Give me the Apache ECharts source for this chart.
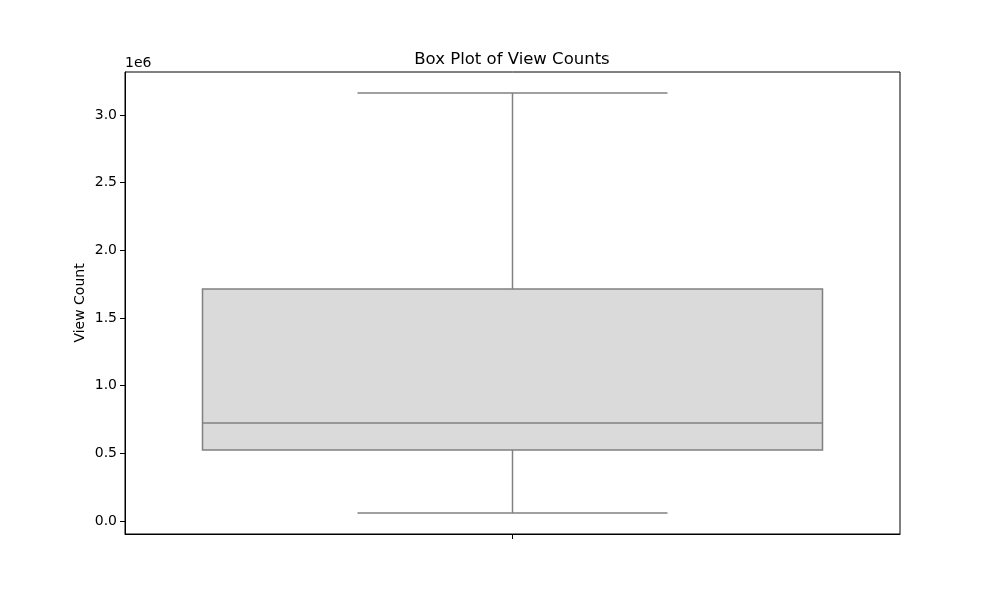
<!DOCTYPE html>
<html>
<head>
<meta charset="utf-8">
<title>Box Plot of View Counts</title>
<script src="https://cdn.jsdelivr.net/npm/echarts@6/dist/echarts.min.js"></script>
<style>
    html, body { margin: 0; padding: 0; background: #fff; }
    #chart { width: 1000px; height: 600px; }
</style>
</head>
<body>
<div id="chart"></div>
<script>
    // summary of the view counts
    const categories = ['']
    const whiskerLow = [59000]
    const quartile1 = [525000]
    const medians = [724000]
    const quartile3 = [1714000]
    const whiskerHigh = [3163000]
    const yTicks = [0, 500000, 1000000, 1500000, 2000000, 2500000, 3000000]
    const xTicks = categories.map((c, i) => i)

    const boxData = categories.map((c, i) => [i, whiskerLow[i], quartile1[i], medians[i], quartile3[i], whiskerHigh[i]])

    const lineColor = '#808080'
    const fillColor = '#dadada'
    const font = 'DejaVu Sans'

    function renderBox (params, api) {
        const idx = api.value(0)
        const band = api.size([1, 0])[0]
        const boxW = band * 0.8
        const capW = boxW / 2
        const pLow = api.coord([idx, api.value(1)])
        const pQ1 = api.coord([idx, api.value(2)])
        const pMed = api.coord([idx, api.value(3)])
        const pQ3 = api.coord([idx, api.value(4)])
        const pHigh = api.coord([idx, api.value(5)])
        const cx = pMed[0]
        const lineStyle = { stroke: lineColor, lineWidth: 1.5, fill: null }
        return {
            type: 'group',
            children: [
                { type: 'line', shape: { x1: cx, y1: pQ3[1], x2: cx, y2: pHigh[1] }, style: lineStyle },
                { type: 'line', shape: { x1: cx, y1: pQ1[1], x2: cx, y2: pLow[1] }, style: lineStyle },
                { type: 'line', shape: { x1: cx - capW / 2, y1: pHigh[1], x2: cx + capW / 2, y2: pHigh[1] }, style: lineStyle },
                { type: 'line', shape: { x1: cx - capW / 2, y1: pLow[1], x2: cx + capW / 2, y2: pLow[1] }, style: lineStyle },
                {
                    type: 'rect',
                    shape: { x: cx - boxW / 2, y: pQ3[1], width: boxW, height: pQ1[1] - pQ3[1] },
                    style: { fill: fillColor, stroke: lineColor, lineWidth: 1.5 }
                },
                { type: 'line', shape: { x1: cx - boxW / 2, y1: pMed[1], x2: cx + boxW / 2, y2: pMed[1] }, style: lineStyle }
            ]
        }
    }

    const chart = echarts.init(document.getElementById('chart'))
    chart.setOption({
        animation: false,
        graphic: [{
            type: 'text',
            x: 512,
            y: 60,
            style: {
                text: 'Box Plot of View Counts',
                font: '16.5px "DejaVu Sans"',
                fill: '#000',
                align: 'center',
                verticalAlign: 'middle'
            }
        }, {
            type: 'text',
            x: 125,
            y: 63,
            style: { text: '1e6', font: '14px "DejaVu Sans"', fill: '#000', verticalAlign: 'middle' }
        }],
        grid: {
            left: 125,
            right: 100,
            top: 72,
            bottom: 66,
            show: true,
            borderColor: '#000',
            borderWidth: 1
        },
        xAxis: {
            type: 'value',
            min: -0.5,
            max: 0.5,
            axisLine: { show: true, onZero: false, lineStyle: { color: '#000', width: 1 } },
            axisTick: { show: true, length: 5, customValues: xTicks, lineStyle: { color: '#000', width: 1 } },
            axisLabel: { show: false },
            splitLine: { show: false }
        },
        yAxis: {
            type: 'value',
            min: -96300,
            max: 3318000,
            name: 'View Count',
            nameLocation: 'middle',
            nameGap: 38,
            nameMoveOverlap: false,
            nameRotate: 90,
            nameTextStyle: { fontFamily: font, fontSize: 14, color: '#000' },
            axisLine: { show: true, onZero: false, lineStyle: { color: '#000', width: 1 } },
            axisTick: { show: true, length: 5, customValues: yTicks, lineStyle: { color: '#000' } },
            axisLabel: {
                customValues: yTicks,
                fontFamily: font,
                fontSize: 14,
                color: '#000',
                margin: 8,
                formatter: v => (v / 1e6).toFixed(1)
            },
            splitLine: { show: false }
        },
        series: [{
            type: 'custom',
            renderItem: renderBox,
            encode: { x: 0, y: [1, 2, 3, 4, 5] },
            data: boxData
        }]
    })
</script>
</body>
</html>
